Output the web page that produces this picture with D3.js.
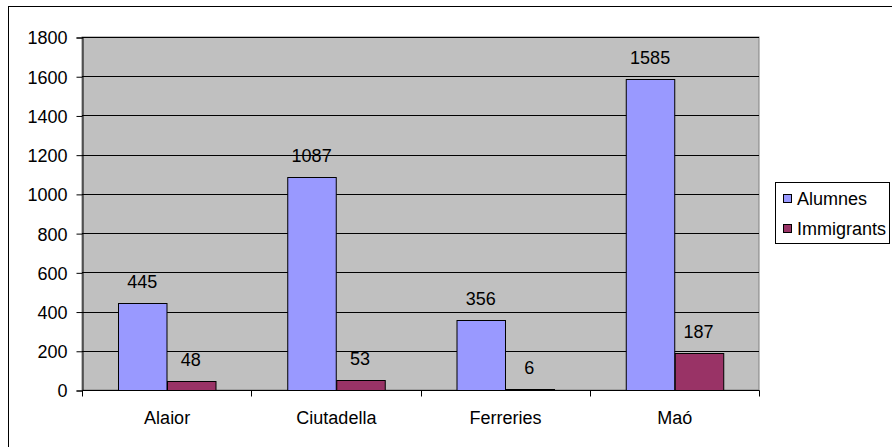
<!DOCTYPE html>
<html>
<head>
<meta charset="utf-8">
<script src="https://cdn.jsdelivr.net/npm/d3@7"></script>
<style>
  html, body { margin: 0; padding: 0; background: #fff; }
  svg { display: block; }
  svg text { font-family: "Liberation Sans", Arial, sans-serif !important; font-size: 18px !important; fill: #000; }
</style>
</head>
<body>
<svg id="chart" width="892" height="447"></svg>
<script>
const categories = ["Alaior", "Ciutadella", "Ferreries", "Maó"];
const seriesNames = ["Alumnes", "Immigrants"];
const alumnes = [445, 1087, 356, 1585];
const immigrants = [48, 53, 6, 187];
const yTicks = [0, 200, 400, 600, 800, 1000, 1200, 1400, 1600, 1800];
const colors = ["#9999FF", "#993366"];

const svg = d3.select("#chart");
const plot = { left: 82, top: 37, right: 759, bottom: 390 };

// outer frame
svg.append("rect").attr("x", 8.5).attr("y", 6.5).attr("width", 900).attr("height", 460)
  .attr("fill", "#fff").attr("stroke", "#000").attr("stroke-width", 1);

const x = d3.scaleBand().domain(categories).range([plot.left, plot.right]).paddingInner(0).paddingOuter(0);
const x1 = d3.scaleBand().domain(seriesNames).range([0, x.bandwidth()]).paddingInner(0).paddingOuter(0.745);
const y = d3.scaleLinear().domain([0, 1800]).range([plot.bottom, plot.top]);

// plot background
svg.append("rect").attr("x", plot.left).attr("y", plot.top)
  .attr("width", plot.right - plot.left).attr("height", plot.bottom - plot.top)
  .attr("fill", "#C0C0C0").attr("stroke", "#808080").attr("stroke-width", 1);

// gridlines
svg.append("g").selectAll("line").data(yTicks.filter(d => d > 0)).join("line")
  .attr("x1", plot.left).attr("x2", plot.right)
  .attr("y1", d => Math.round(y(d)) + 0.5).attr("y2", d => Math.round(y(d)) + 0.5)
  .attr("stroke", "#000").attr("stroke-width", 1);

const data = categories.map((c, i) => ({ cat: c, vals: [alumnes[i], immigrants[i]] }));

const groups = svg.append("g").selectAll("g").data(data).join("g")
  .attr("transform", d => `translate(${x(d.cat)},0)`);

groups.selectAll("rect").data(d => d.vals.map((v, j) => ({ v, s: seriesNames[j], j }))).join("rect")
  .attr("x", d => Math.round(x1(d.s)) + 0.5)
  .attr("y", d => Math.round(y(d.v)) + 0.5)
  .attr("width", x1.bandwidth())
  .attr("height", d => Math.max(0, Math.round(y(0)) - Math.round(y(d.v))))
  .attr("fill", d => colors[d.j]).attr("stroke", "#000").attr("stroke-width", 1);

groups.selectAll("text.lbl").data(d => d.vals.map((v, j) => ({ v, s: seriesNames[j] }))).join("text")
  .attr("class", "lbl")
  .attr("x", d => x1(d.s) + x1.bandwidth() / 2)
  .attr("y", d => y(d.v) - 15)
  .attr("text-anchor", "middle")
  .text(d => d.v);

// y axis
const yAxis = d3.axisLeft(y).tickValues(yTicks).tickSize(6).tickPadding(9).tickFormat(d3.format("d"));
const ya = svg.append("g").attr("transform", `translate(${plot.left + 0.5},0.5)`).call(yAxis);
ya.attr("font-size", null).attr("font-family", null);
ya.select(".domain").attr("stroke", "#000");
ya.selectAll(".tick line").attr("stroke", "#000");
ya.selectAll("text").attr("fill", "#000").attr("dy", "0.36em");

// x axis
const xa = svg.append("g").attr("transform", `translate(0.5,${plot.bottom + 0.5})`);
xa.append("line").attr("x1", plot.left).attr("x2", plot.right).attr("stroke", "#000");
const xTickPos = categories.map(c => x(c)).concat([plot.right]);
xa.selectAll("line.t").data(xTickPos).join("line").attr("class", "t")
  .attr("x1", d => Math.round(d)).attr("x2", d => Math.round(d)).attr("y1", 0).attr("y2", 6).attr("stroke", "#000");
xa.selectAll("text").data(categories).join("text")
  .attr("x", d => x(d) + x.bandwidth() / 2).attr("y", 33)
  .attr("text-anchor", "middle").text(d => d);

// legend
const lg = svg.append("g");
lg.append("rect").attr("x", 775.5).attr("y", 182.5).attr("width", 114).attr("height", 61)
  .attr("fill", "#fff").attr("stroke", "#000");
seriesNames.forEach((s, i) => {
  const yy = 205 + i * 30;
  lg.append("rect").attr("x", 783.5).attr("y", yy - 10.5).attr("width", 8).attr("height", 8)
    .attr("fill", colors[i]).attr("stroke", "#000");
  lg.append("text").attr("x", 797).attr("y", yy).text(s);
});
</script>
</body>
</html>
